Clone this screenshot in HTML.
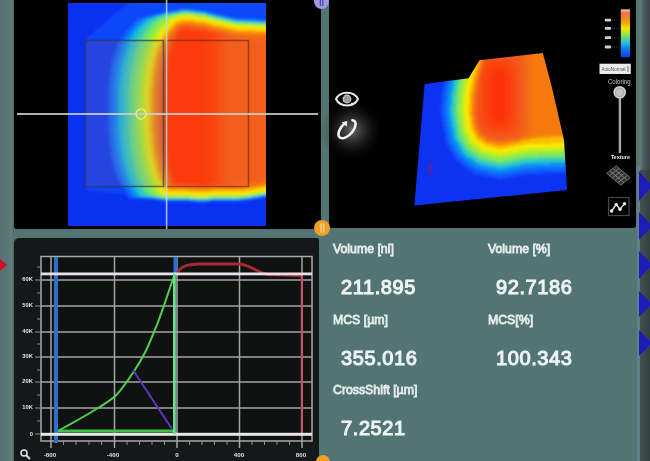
<!DOCTYPE html>
<html><head><meta charset="utf-8">
<style>
html,body{margin:0;padding:0;width:650px;height:461px;overflow:hidden;background:#527473;font-family:"Liberation Sans",sans-serif;}
.abs{position:absolute;}
#root{position:absolute;left:0;top:0;width:650px;height:461px;overflow:hidden;filter:blur(0.6px);}
#ls{left:0;top:0;width:14px;height:461px;background:linear-gradient(90deg,#5c7073 0%,#587474 45%,#5e7e7a 85%,#4a6664 100%);}
#tl{left:14px;top:0;width:307px;height:229px;background:#000;border-radius:0 0 3px 3px;}
#tr{left:329px;top:0;width:307px;height:228px;background:#000;border-radius:0 0 3px 3px;}
#gp{left:14px;top:238px;width:305px;height:223px;background:#141818;border-radius:5px 2px 0 0;}
#rs{left:640px;top:170px;width:10px;height:291px;background:linear-gradient(90deg,#44504f,#353d40);}
#rs2{left:636px;top:0;width:14px;height:170px;background:linear-gradient(90deg,#567472 0%,#5a7876 35%,#4a585c 55%,#3c4448 100%);}
.lbl{position:absolute;color:#e6ecec;font-size:12.3px;letter-spacing:0px;-webkit-text-stroke:0.8px #e6ecec;}
.val{position:absolute;color:#eef4f4;font-size:20px;letter-spacing:0.6px;-webkit-text-stroke:1.1px #eef4f4;}
svg{position:absolute;left:0;top:0;}
</style></head><body><div id="root">
<div id="ls" class="abs"></div>
<div id="tl" class="abs"></div>
<div id="tr" class="abs"></div>
<div id="gp" class="abs"></div>
<div id="rs2" class="abs"></div>
<div id="rs" class="abs"></div>
<div class="abs" style="left:637px;top:166px;width:3px;height:295px;background:#647e86;"></div>

<svg width="650" height="461" viewBox="0 0 650 461">
<defs>
 <filter id="b3" x="-20%" y="-20%" width="140%" height="140%"><feGaussianBlur stdDeviation="3"/></filter>
 <filter id="b5" x="-20%" y="-20%" width="140%" height="140%"><feGaussianBlur stdDeviation="5"/></filter>
 <filter id="b15" x="-10%" y="-10%" width="120%" height="120%"><feGaussianBlur stdDeviation="1.5"/></filter>
 <filter id="b1" x="-20%" y="-20%" width="140%" height="140%"><feGaussianBlur stdDeviation="1"/></filter>
 <clipPath id="hm"><rect x="68" y="3" width="198" height="223"/></clipPath>
 <radialGradient id="glow" cx="0.5" cy="0.5" r="0.5"><stop offset="0" stop-color="#9a9a9a" stop-opacity="0.7"/><stop offset="0.45" stop-color="#606060" stop-opacity="0.35"/><stop offset="1" stop-color="#000" stop-opacity="0"/></radialGradient>
</defs>

<!-- ===== heatmap ===== -->
<g clip-path="url(#hm)">
 <rect x="60" y="0" width="220" height="235" fill="#0a30f2"/>
 <path d="M131,0 L280,0 L280,40 L85,40 Z M85,187 L280,187 L280,192 L166,199 L85,190 Z" fill="#0c46fa" filter="url(#b15)"/>
 <g filter="url(#b15)">
<path fill="#0a43f6" d="M130.0,23.0 130.0,24.0 122.0,33.0 115.0,47.0 115.0,49.0 114.0,50.0 114.0,52.0 113.0,53.0 113.0,55.0 111.0,59.0 111.0,63.0 110.0,64.0 110.0,68.0 109.0,69.0 109.0,75.0 108.0,76.0 108.0,86.0 107.0,87.0 107.0,133.0 108.0,134.0 108.0,145.0 109.0,146.0 110.0,158.0 111.0,159.0 111.0,162.0 112.0,163.0 112.0,166.0 113.0,167.0 113.0,170.0 114.0,171.0 115.0,176.0 118.0,181.0 119.0,185.0 121.0,187.0 122.0,190.0 124.0,192.0 126.0,196.0 128.0,198.0 130.0,198.0 131.0,199.0 149.0,199.0 150.0,200.0 157.0,200.0 158.0,201.0 165.0,201.0 166.0,202.0 196.0,202.0 197.0,203.0 207.0,203.0 208.0,202.0 239.0,202.0 240.0,201.0 249.0,201.0 250.0,200.0 260.0,199.0 261.0,198.0 279.0,198.0 279.0,19.0 263.0,19.0 262.0,18.0 243.0,18.0 242.0,17.0 233.0,17.0 232.0,16.0 224.0,15.0 223.0,14.0 220.0,14.0 219.0,13.0 216.0,13.0 215.0,12.0 212.0,12.0 211.0,11.0 208.0,11.0 207.0,10.0 204.0,10.0 203.0,9.0 196.0,9.0 195.0,8.0 189.0,8.0 188.0,7.0 184.0,7.0 183.0,8.0 178.0,8.0 177.0,9.0 173.0,9.0 172.0,10.0 167.0,10.0 166.0,11.0 163.0,11.0 162.0,12.0 155.0,13.0 151.0,15.0 144.0,16.0 140.0,18.0 137.0,18.0 135.0,19.0 131.0,23.0Z"/>
<path fill="#0a56fb" d="M132.0,23.0 132.0,24.0 124.0,33.0 117.0,47.0 117.0,49.0 116.0,50.0 116.0,52.0 115.0,53.0 115.0,55.0 113.0,59.0 113.0,63.0 112.0,64.0 112.0,68.0 111.0,69.0 111.0,75.0 110.0,76.0 110.0,86.0 109.0,87.0 109.0,133.0 110.0,134.0 110.0,145.0 111.0,146.0 112.0,158.0 113.0,159.0 113.0,162.0 114.0,163.0 114.0,166.0 115.0,167.0 115.0,170.0 116.0,171.0 117.0,176.0 120.0,181.0 121.0,185.0 123.0,187.0 124.0,190.0 126.0,192.0 128.0,196.0 130.0,198.0 138.0,198.0 139.0,199.0 153.0,199.0 154.0,200.0 161.0,200.0 162.0,201.0 189.0,201.0 190.0,202.0 211.0,202.0 212.0,201.0 244.0,201.0 245.0,200.0 252.0,200.0 253.0,199.0 257.0,199.0 258.0,198.0 262.0,198.0 263.0,197.0 279.0,197.0 279.0,19.0 249.0,19.0 248.0,18.0 235.0,18.0 234.0,17.0 230.0,17.0 229.0,16.0 226.0,16.0 225.0,15.0 221.0,15.0 220.0,14.0 217.0,14.0 216.0,13.0 209.0,12.0 205.0,10.0 191.0,9.0 190.0,8.0 182.0,8.0 181.0,9.0 176.0,9.0 175.0,10.0 171.0,10.0 170.0,11.0 165.0,11.0 161.0,13.0 158.0,13.0 157.0,14.0 154.0,14.0 150.0,16.0 143.0,17.0 142.0,18.0 137.0,19.0 133.0,23.0Z"/>
<path fill="#0a69ff" d="M134.0,23.0 134.0,24.0 126.0,33.0 119.0,47.0 119.0,49.0 118.0,50.0 118.0,52.0 117.0,53.0 117.0,55.0 115.0,59.0 115.0,63.0 114.0,64.0 114.0,68.0 113.0,69.0 113.0,75.0 112.0,76.0 112.0,86.0 111.0,87.0 111.0,133.0 112.0,134.0 112.0,145.0 113.0,146.0 114.0,158.0 115.0,159.0 115.0,162.0 116.0,163.0 116.0,166.0 117.0,167.0 117.0,170.0 118.0,171.0 119.0,176.0 122.0,181.0 123.0,185.0 125.0,187.0 126.0,190.0 128.0,192.0 130.0,196.0 133.0,198.0 149.0,198.0 150.0,199.0 157.0,199.0 158.0,200.0 165.0,200.0 166.0,201.0 196.0,201.0 197.0,202.0 207.0,202.0 208.0,201.0 239.0,201.0 240.0,200.0 249.0,200.0 250.0,199.0 260.0,198.0 261.0,197.0 279.0,197.0 279.0,20.0 256.0,20.0 255.0,19.0 236.0,19.0 235.0,18.0 232.0,18.0 231.0,17.0 227.0,17.0 226.0,16.0 223.0,16.0 222.0,15.0 214.0,14.0 213.0,13.0 207.0,12.0 206.0,11.0 194.0,10.0 193.0,9.0 180.0,9.0 179.0,10.0 175.0,10.0 174.0,11.0 164.0,12.0 163.0,13.0 160.0,13.0 156.0,15.0 153.0,15.0 152.0,16.0 149.0,16.0 145.0,18.0 142.0,18.0 138.0,20.0 135.0,23.0Z"/>
<path fill="#118ef1" d="M140.0,21.0 132.0,30.0 132.0,31.0 128.0,36.0 123.0,46.0 123.0,48.0 122.0,49.0 122.0,51.0 121.0,52.0 121.0,54.0 119.0,58.0 119.0,61.0 118.0,62.0 118.0,66.0 117.0,67.0 117.0,73.0 116.0,74.0 116.0,82.0 115.0,83.0 115.0,138.0 116.0,139.0 116.0,147.0 117.0,148.0 117.0,154.0 118.0,155.0 119.0,164.0 121.0,168.0 122.0,174.0 124.0,177.0 124.0,179.0 129.0,189.0 131.0,191.0 133.0,195.0 135.0,197.0 142.0,197.0 143.0,198.0 155.0,198.0 156.0,199.0 163.0,199.0 164.0,200.0 192.0,200.0 193.0,201.0 209.0,201.0 210.0,200.0 242.0,200.0 243.0,199.0 251.0,199.0 252.0,198.0 256.0,198.0 257.0,197.0 261.0,197.0 262.0,196.0 279.0,196.0 279.0,21.0 258.0,21.0 257.0,20.0 238.0,20.0 237.0,19.0 232.0,19.0 231.0,18.0 227.0,18.0 226.0,17.0 223.0,17.0 222.0,16.0 218.0,16.0 217.0,15.0 211.0,14.0 210.0,13.0 207.0,13.0 206.0,12.0 202.0,12.0 201.0,11.0 194.0,11.0 193.0,10.0 187.0,10.0 186.0,9.0 185.0,10.0 180.0,10.0 179.0,11.0 168.0,12.0 167.0,13.0 164.0,13.0 163.0,14.0 156.0,15.0 152.0,17.0 149.0,17.0 148.0,18.0 143.0,19.0 141.0,21.0Z"/>
<path fill="#19b9e1" d="M147.0,19.0 143.0,23.0 142.0,23.0 142.0,24.0 137.0,29.0 137.0,30.0 134.0,33.0 133.0,36.0 131.0,38.0 129.0,42.0 129.0,44.0 127.0,47.0 127.0,49.0 126.0,50.0 126.0,52.0 125.0,53.0 125.0,55.0 123.0,59.0 123.0,63.0 122.0,64.0 122.0,68.0 121.0,69.0 121.0,75.0 120.0,76.0 120.0,86.0 119.0,87.0 119.0,133.0 120.0,134.0 120.0,145.0 121.0,146.0 122.0,158.0 123.0,159.0 123.0,162.0 124.0,163.0 124.0,166.0 125.0,167.0 125.0,170.0 126.0,171.0 127.0,176.0 130.0,181.0 131.0,185.0 133.0,187.0 134.0,190.0 136.0,192.0 138.0,196.0 140.0,196.0 141.0,197.0 153.0,197.0 154.0,198.0 161.0,198.0 162.0,199.0 189.0,199.0 190.0,200.0 211.0,200.0 212.0,199.0 244.0,199.0 245.0,198.0 252.0,198.0 253.0,197.0 257.0,197.0 258.0,196.0 262.0,196.0 263.0,195.0 279.0,195.0 279.0,22.0 256.0,22.0 255.0,21.0 236.0,21.0 235.0,20.0 232.0,20.0 231.0,19.0 227.0,19.0 226.0,18.0 223.0,18.0 222.0,17.0 214.0,16.0 213.0,15.0 207.0,14.0 206.0,13.0 194.0,12.0 193.0,11.0 180.0,11.0 179.0,12.0 175.0,12.0 174.0,13.0 164.0,14.0 163.0,15.0 160.0,15.0 156.0,17.0 153.0,17.0 152.0,18.0Z"/>
<path fill="#39cbb5" d="M150.0,20.0 140.0,31.0 132.0,46.0 132.0,48.0 129.0,54.0 128.0,61.0 127.0,62.0 126.0,72.0 125.0,73.0 125.0,81.0 124.0,82.0 124.0,139.0 125.0,140.0 125.0,148.0 126.0,149.0 126.0,155.0 127.0,156.0 127.0,160.0 128.0,161.0 128.0,164.0 129.0,165.0 129.0,168.0 130.0,169.0 132.0,177.0 141.0,194.0 143.0,196.0 157.0,197.0 158.0,198.0 165.0,198.0 166.0,199.0 196.0,199.0 197.0,200.0 207.0,200.0 208.0,199.0 239.0,199.0 240.0,198.0 249.0,198.0 250.0,197.0 260.0,196.0 261.0,195.0 279.0,195.0 279.0,23.0 262.0,23.0 261.0,22.0 242.0,22.0 241.0,21.0 233.0,21.0 232.0,20.0 228.0,20.0 227.0,19.0 224.0,19.0 223.0,18.0 215.0,17.0 214.0,16.0 208.0,15.0 207.0,14.0 203.0,14.0 202.0,13.0 196.0,13.0 195.0,12.0 188.0,12.0 187.0,11.0 179.0,12.0 178.0,13.0 173.0,13.0 172.0,14.0 167.0,14.0 166.0,15.0 163.0,15.0 159.0,17.0 156.0,17.0Z"/>
<path fill="#5fe182" d="M158.0,18.0 154.0,22.0 153.0,22.0 146.0,30.0 138.0,44.0 138.0,46.0 136.0,49.0 135.0,55.0 133.0,59.0 133.0,63.0 132.0,64.0 132.0,68.0 131.0,69.0 131.0,74.0 130.0,75.0 130.0,85.0 129.0,86.0 129.0,134.0 130.0,135.0 130.0,145.0 131.0,146.0 131.0,153.0 132.0,154.0 133.0,163.0 134.0,164.0 134.0,167.0 135.0,168.0 137.0,176.0 145.0,192.0 149.0,196.0 154.0,196.0 155.0,197.0 161.0,197.0 162.0,198.0 190.0,198.0 191.0,199.0 210.0,199.0 211.0,198.0 244.0,198.0 245.0,197.0 251.0,197.0 252.0,196.0 257.0,196.0 258.0,195.0 262.0,195.0 263.0,194.0 279.0,194.0 279.0,24.0 265.0,24.0 264.0,23.0 245.0,23.0 244.0,22.0 233.0,22.0 232.0,21.0 229.0,21.0 228.0,20.0 224.0,20.0 223.0,19.0 220.0,19.0 219.0,18.0 216.0,18.0 215.0,17.0 208.0,16.0 204.0,14.0 197.0,14.0 196.0,13.0 189.0,13.0 188.0,12.0 183.0,12.0 182.0,13.0 178.0,13.0 177.0,14.0 172.0,14.0 171.0,15.0 167.0,15.0 166.0,16.0 163.0,16.0 162.0,17.0Z"/>
<path fill="#87e855" d="M163.0,18.0 160.0,21.0 159.0,21.0 151.0,30.0 143.0,44.0 143.0,46.0 141.0,49.0 141.0,51.0 139.0,55.0 138.0,62.0 137.0,63.0 136.0,73.0 135.0,74.0 135.0,83.0 134.0,84.0 134.0,136.0 135.0,137.0 135.0,147.0 136.0,148.0 136.0,154.0 137.0,155.0 137.0,159.0 138.0,160.0 139.0,167.0 140.0,168.0 140.0,170.0 141.0,171.0 143.0,179.0 148.0,189.0 154.0,196.0 158.0,196.0 159.0,197.0 166.0,197.0 167.0,198.0 197.0,198.0 198.0,199.0 207.0,199.0 208.0,198.0 214.0,198.0 215.0,197.0 216.0,198.0 239.0,198.0 240.0,197.0 249.0,197.0 250.0,196.0 254.0,196.0 255.0,195.0 260.0,195.0 261.0,194.0 265.0,194.0 266.0,193.0 279.0,193.0 279.0,24.0 250.0,24.0 249.0,23.0 235.0,23.0 234.0,22.0 230.0,22.0 229.0,21.0 226.0,21.0 225.0,20.0 221.0,20.0 220.0,19.0 213.0,18.0 212.0,17.0 206.0,16.0 205.0,15.0 191.0,14.0 190.0,13.0 182.0,13.0 181.0,14.0 176.0,14.0 175.0,15.0 167.0,16.0Z"/>
<path fill="#aff028" d="M170.0,17.0 168.0,19.0 167.0,19.0 157.0,29.0 157.0,30.0 153.0,35.0 148.0,45.0 148.0,47.0 146.0,50.0 146.0,52.0 144.0,56.0 144.0,59.0 143.0,60.0 143.0,64.0 142.0,65.0 142.0,69.0 141.0,70.0 141.0,77.0 140.0,78.0 140.0,90.0 139.0,91.0 139.0,129.0 140.0,130.0 140.0,143.0 141.0,144.0 141.0,151.0 142.0,152.0 142.0,157.0 143.0,158.0 144.0,166.0 145.0,167.0 145.0,169.0 146.0,170.0 148.0,178.0 154.0,190.0 158.0,195.0 162.0,196.0 163.0,197.0 189.0,197.0 190.0,198.0 211.0,198.0 212.0,197.0 244.0,197.0 245.0,196.0 252.0,196.0 253.0,195.0 257.0,195.0 258.0,194.0 262.0,194.0 263.0,193.0 279.0,193.0 279.0,25.0 256.0,25.0 255.0,24.0 236.0,24.0 235.0,23.0 232.0,23.0 231.0,22.0 227.0,22.0 226.0,21.0 223.0,21.0 222.0,20.0 214.0,19.0 213.0,18.0 207.0,17.0 206.0,16.0 194.0,15.0 193.0,14.0 180.0,14.0 179.0,15.0 176.0,15.0 175.0,16.0Z"/>
<path fill="#d5ec14" d="M171.0,19.0 169.0,21.0 168.0,21.0 160.0,30.0 152.0,44.0 152.0,46.0 150.0,49.0 150.0,51.0 148.0,55.0 147.0,62.0 146.0,63.0 146.0,67.0 145.0,68.0 145.0,74.0 144.0,75.0 144.0,84.0 143.0,85.0 143.0,135.0 144.0,136.0 144.0,146.0 145.0,147.0 145.0,153.0 146.0,154.0 147.0,163.0 148.0,164.0 148.0,167.0 149.0,168.0 151.0,176.0 159.0,192.0 163.0,195.0 167.0,195.0 168.0,196.0 196.0,196.0 197.0,197.0 207.0,197.0 208.0,196.0 239.0,196.0 240.0,195.0 249.0,195.0 250.0,194.0 260.0,193.0 261.0,192.0 279.0,192.0 279.0,26.0 246.0,26.0 245.0,25.0 234.0,25.0 233.0,24.0 229.0,24.0 228.0,23.0 225.0,23.0 224.0,22.0 220.0,22.0 219.0,21.0 212.0,20.0 211.0,19.0 205.0,18.0 204.0,17.0 197.0,17.0 196.0,16.0 190.0,16.0 189.0,15.0 183.0,15.0 182.0,16.0 178.0,16.0 177.0,17.0 175.0,17.0Z"/>
<path fill="#fae800" d="M173.0,20.0 164.0,29.0 164.0,30.0 161.0,33.0 160.0,36.0 158.0,38.0 156.0,42.0 156.0,44.0 154.0,47.0 154.0,49.0 153.0,50.0 153.0,52.0 152.0,53.0 152.0,55.0 150.0,59.0 150.0,63.0 149.0,64.0 149.0,68.0 148.0,69.0 148.0,75.0 147.0,76.0 147.0,86.0 146.0,87.0 146.0,133.0 147.0,134.0 147.0,145.0 148.0,146.0 148.0,152.0 149.0,153.0 149.0,158.0 150.0,159.0 150.0,162.0 151.0,163.0 151.0,166.0 152.0,167.0 152.0,170.0 153.0,171.0 154.0,176.0 161.0,190.0 165.0,194.0 189.0,194.0 190.0,195.0 211.0,195.0 212.0,194.0 244.0,194.0 245.0,193.0 252.0,193.0 253.0,192.0 257.0,192.0 258.0,191.0 262.0,191.0 263.0,190.0 279.0,190.0 279.0,28.0 256.0,28.0 255.0,27.0 236.0,27.0 235.0,26.0 232.0,26.0 231.0,25.0 227.0,25.0 226.0,24.0 223.0,24.0 222.0,23.0 214.0,22.0 213.0,21.0 207.0,20.0 206.0,19.0 194.0,18.0 193.0,17.0 181.0,17.0 180.0,18.0 177.0,18.0Z"/>
<path fill="#fabf00" d="M175.0,21.0 164.0,33.0 157.0,47.0 157.0,49.0 156.0,50.0 156.0,52.0 155.0,53.0 155.0,55.0 153.0,59.0 153.0,63.0 152.0,64.0 152.0,68.0 151.0,69.0 151.0,75.0 150.0,76.0 150.0,86.0 149.0,87.0 149.0,133.0 150.0,134.0 150.0,145.0 151.0,146.0 151.0,152.0 152.0,153.0 152.0,158.0 153.0,159.0 153.0,162.0 154.0,163.0 154.0,166.0 155.0,167.0 155.0,170.0 156.0,171.0 157.0,176.0 164.0,190.0 167.0,192.0 211.0,193.0 212.0,192.0 244.0,192.0 245.0,191.0 252.0,191.0 253.0,190.0 257.0,190.0 258.0,189.0 262.0,189.0 263.0,188.0 279.0,188.0 279.0,30.0 256.0,30.0 255.0,29.0 236.0,29.0 235.0,28.0 232.0,28.0 231.0,27.0 227.0,27.0 226.0,26.0 223.0,26.0 222.0,25.0 214.0,24.0 213.0,23.0 207.0,22.0 206.0,21.0 194.0,20.0 193.0,19.0 181.0,19.0 180.0,20.0 177.0,20.0Z"/>
<path fill="#fa9600" d="M176.0,23.0 167.0,33.0 160.0,47.0 160.0,49.0 159.0,50.0 159.0,52.0 158.0,53.0 158.0,55.0 156.0,59.0 156.0,63.0 155.0,64.0 155.0,68.0 154.0,69.0 154.0,75.0 153.0,76.0 153.0,86.0 152.0,87.0 152.0,133.0 153.0,134.0 153.0,145.0 154.0,146.0 154.0,152.0 155.0,153.0 155.0,158.0 156.0,159.0 156.0,162.0 157.0,163.0 158.0,170.0 159.0,171.0 160.0,176.0 163.0,181.0 164.0,185.0 166.0,187.0 166.0,188.0 169.0,190.0 189.0,190.0 190.0,191.0 211.0,191.0 212.0,190.0 244.0,190.0 245.0,189.0 252.0,189.0 253.0,188.0 257.0,188.0 258.0,187.0 262.0,187.0 263.0,186.0 279.0,186.0 279.0,32.0 256.0,32.0 255.0,31.0 236.0,31.0 235.0,30.0 232.0,30.0 231.0,29.0 227.0,29.0 226.0,28.0 223.0,28.0 222.0,27.0 214.0,26.0 213.0,25.0 207.0,24.0 206.0,23.0 194.0,22.0 193.0,21.0 181.0,21.0 180.0,22.0Z"/>
<path fill="#f98d05" d="M176.0,24.0 171.0,29.0 171.0,30.0 167.0,35.0 161.0,47.0 161.0,49.0 160.0,50.0 160.0,52.0 158.0,56.0 158.0,59.0 157.0,60.0 156.0,69.0 155.0,70.0 155.0,76.0 154.0,77.0 154.0,89.0 153.0,90.0 153.0,130.0 154.0,131.0 154.0,143.0 155.0,144.0 155.0,151.0 156.0,152.0 156.0,157.0 157.0,158.0 158.0,166.0 159.0,167.0 159.0,169.0 160.0,170.0 162.0,178.0 166.0,186.0 169.0,189.0 174.0,189.0 175.0,190.0 199.0,190.0 200.0,191.0 206.0,191.0 207.0,190.0 213.0,190.0 214.0,189.0 221.0,189.0 222.0,190.0 237.0,190.0 238.0,189.0 247.0,189.0 248.0,188.0 259.0,187.0 260.0,186.0 264.0,186.0 265.0,185.0 279.0,185.0 279.0,33.0 239.0,32.0 238.0,31.0 232.0,31.0 231.0,30.0 228.0,30.0 227.0,29.0 223.0,29.0 222.0,28.0 219.0,28.0 218.0,27.0 215.0,27.0 214.0,26.0 211.0,26.0 210.0,25.0 207.0,25.0 206.0,24.0 202.0,24.0 201.0,23.0 195.0,23.0 194.0,22.0 187.0,22.0 186.0,21.0Z"/>
<path fill="#f7840a" d="M176.0,25.0 173.0,28.0 173.0,29.0 170.0,32.0 169.0,35.0 167.0,37.0 163.0,45.0 163.0,47.0 162.0,48.0 162.0,50.0 161.0,51.0 161.0,53.0 159.0,57.0 159.0,60.0 158.0,61.0 158.0,64.0 157.0,65.0 157.0,70.0 156.0,71.0 156.0,78.0 155.0,79.0 155.0,94.0 154.0,95.0 154.0,125.0 155.0,126.0 155.0,142.0 156.0,143.0 156.0,150.0 157.0,151.0 157.0,156.0 158.0,157.0 158.0,161.0 159.0,162.0 160.0,169.0 161.0,170.0 162.0,175.0 164.0,178.0 164.0,180.0 167.0,186.0 171.0,189.0 194.0,189.0 195.0,190.0 208.0,190.0 209.0,189.0 241.0,189.0 242.0,188.0 250.0,188.0 251.0,187.0 261.0,186.0 262.0,185.0 279.0,185.0 279.0,34.0 262.0,34.0 261.0,33.0 242.0,33.0 241.0,32.0 233.0,32.0 232.0,31.0 228.0,31.0 227.0,30.0 224.0,30.0 223.0,29.0 220.0,29.0 219.0,28.0 216.0,28.0 215.0,27.0 212.0,27.0 211.0,26.0 208.0,26.0 207.0,25.0 204.0,25.0 203.0,24.0 196.0,24.0 195.0,23.0 189.0,23.0 188.0,22.0 184.0,22.0 183.0,23.0 180.0,23.0Z"/>
<path fill="#f67a0f" d="M178.0,25.0 170.0,34.0 163.0,48.0 163.0,50.0 161.0,54.0 161.0,57.0 160.0,58.0 160.0,61.0 159.0,62.0 159.0,65.0 158.0,66.0 158.0,71.0 157.0,72.0 157.0,80.0 156.0,81.0 156.0,105.0 155.0,106.0 155.0,113.0 156.0,114.0 156.0,140.0 157.0,141.0 157.0,149.0 158.0,150.0 159.0,160.0 160.0,161.0 161.0,168.0 162.0,169.0 164.0,177.0 167.0,182.0 167.0,184.0 169.0,186.0 169.0,187.0 171.0,188.0 189.0,188.0 190.0,189.0 211.0,189.0 212.0,188.0 244.0,188.0 245.0,187.0 251.0,187.0 252.0,186.0 257.0,186.0 258.0,185.0 262.0,185.0 263.0,184.0 279.0,184.0 279.0,35.0 265.0,35.0 264.0,34.0 245.0,34.0 244.0,33.0 234.0,33.0 233.0,32.0 229.0,32.0 228.0,31.0 225.0,31.0 224.0,30.0 220.0,30.0 219.0,29.0 212.0,28.0 211.0,27.0 205.0,26.0 204.0,25.0 197.0,25.0 196.0,24.0 190.0,24.0 189.0,23.0 184.0,23.0 183.0,24.0 180.0,24.0Z"/>
<path fill="#f57114" d="M178.0,26.0 171.0,34.0 165.0,46.0 165.0,48.0 164.0,49.0 164.0,51.0 163.0,52.0 163.0,54.0 161.0,58.0 161.0,61.0 160.0,62.0 159.0,72.0 158.0,73.0 158.0,82.0 157.0,83.0 157.0,138.0 158.0,139.0 158.0,148.0 159.0,149.0 159.0,154.0 160.0,155.0 160.0,159.0 161.0,160.0 161.0,164.0 163.0,168.0 163.0,171.0 164.0,172.0 164.0,174.0 166.0,177.0 166.0,179.0 169.0,185.0 171.0,187.0 175.0,187.0 176.0,188.0 199.0,188.0 200.0,189.0 206.0,189.0 207.0,188.0 213.0,188.0 214.0,187.0 221.0,187.0 222.0,188.0 236.0,188.0 237.0,187.0 246.0,187.0 247.0,186.0 253.0,186.0 254.0,185.0 264.0,184.0 265.0,183.0 279.0,183.0 279.0,35.0 247.0,35.0 246.0,34.0 234.0,34.0 233.0,33.0 230.0,33.0 229.0,32.0 225.0,32.0 224.0,31.0 221.0,31.0 220.0,30.0 217.0,30.0 216.0,29.0 209.0,28.0 205.0,26.0 191.0,25.0 190.0,24.0 183.0,24.0 182.0,25.0Z"/>
<path fill="#f36819" d="M178.0,27.0 175.0,30.0 175.0,31.0 171.0,36.0 167.0,44.0 167.0,46.0 165.0,49.0 165.0,51.0 163.0,55.0 163.0,58.0 162.0,59.0 162.0,62.0 161.0,63.0 161.0,67.0 160.0,68.0 160.0,74.0 159.0,75.0 159.0,84.0 158.0,85.0 158.0,136.0 159.0,137.0 159.0,146.0 160.0,147.0 160.0,153.0 161.0,154.0 161.0,159.0 162.0,160.0 163.0,167.0 164.0,168.0 166.0,176.0 168.0,179.0 168.0,181.0 170.0,185.0 173.0,187.0 194.0,187.0 195.0,188.0 208.0,188.0 209.0,187.0 238.0,187.0 239.0,186.0 248.0,186.0 249.0,185.0 254.0,185.0 255.0,184.0 259.0,184.0 260.0,183.0 264.0,183.0 265.0,182.0 279.0,182.0 279.0,37.0 265.0,37.0 264.0,36.0 245.0,36.0 244.0,35.0 234.0,35.0 233.0,34.0 230.0,34.0 229.0,33.0 226.0,33.0 225.0,32.0 222.0,32.0 221.0,31.0 217.0,31.0 216.0,30.0 210.0,29.0 209.0,28.0 206.0,28.0 205.0,27.0 200.0,27.0 199.0,26.0 192.0,26.0 191.0,25.0 182.0,25.0Z"/>
<path fill="#f25f1e" d="M178.0,28.0 171.0,38.0 169.0,42.0 169.0,44.0 167.0,47.0 165.0,55.0 164.0,56.0 164.0,59.0 163.0,60.0 163.0,63.0 162.0,64.0 162.0,68.0 161.0,69.0 161.0,75.0 160.0,76.0 160.0,86.0 159.0,87.0 159.0,133.0 160.0,134.0 160.0,145.0 161.0,146.0 161.0,152.0 162.0,153.0 162.0,158.0 163.0,159.0 163.0,162.0 164.0,163.0 165.0,170.0 168.0,176.0 168.0,178.0 170.0,181.0 170.0,183.0 173.0,186.0 189.0,186.0 190.0,187.0 211.0,187.0 212.0,186.0 232.0,186.0 236.0,183.0 245.0,183.0 246.0,182.0 252.0,182.0 253.0,181.0 263.0,180.0 264.0,179.0 279.0,179.0 279.0,41.0 248.0,41.0 247.0,40.0 236.0,40.0 232.0,36.0 228.0,34.0 222.0,33.0 221.0,32.0 218.0,32.0 217.0,31.0 214.0,31.0 213.0,30.0 207.0,29.0 206.0,28.0 194.0,27.0 193.0,26.0 182.0,26.0Z"/>
<path fill="#f4591b" d="M185.0,26.0 184.0,27.0 180.0,28.0 175.0,33.0 173.0,38.0 171.0,40.0 170.0,44.0 168.0,47.0 166.0,55.0 165.0,56.0 165.0,59.0 164.0,60.0 164.0,63.0 163.0,64.0 163.0,68.0 162.0,69.0 162.0,75.0 161.0,76.0 161.0,87.0 160.0,88.0 160.0,133.0 161.0,134.0 161.0,145.0 162.0,146.0 163.0,158.0 164.0,159.0 164.0,162.0 165.0,163.0 166.0,170.0 169.0,176.0 169.0,178.0 172.0,184.0 175.0,186.0 197.0,186.0 198.0,187.0 207.0,187.0 208.0,186.0 214.0,186.0 215.0,185.0 216.0,186.0 222.0,186.0 223.0,185.0 226.0,185.0 227.0,184.0 227.0,37.0 226.0,35.0 224.0,34.0 222.0,34.0 218.0,32.0 215.0,32.0 214.0,31.0 211.0,31.0 207.0,29.0 203.0,29.0 202.0,28.0 195.0,28.0 194.0,27.0 188.0,27.0 187.0,26.0Z"/>
<path fill="#f55218" d="M184.0,27.0 183.0,28.0 181.0,28.0 177.0,32.0 174.0,38.0 172.0,40.0 172.0,42.0 169.0,47.0 169.0,49.0 168.0,50.0 168.0,52.0 166.0,56.0 166.0,59.0 165.0,60.0 165.0,63.0 164.0,64.0 164.0,68.0 163.0,69.0 163.0,75.0 162.0,76.0 162.0,87.0 161.0,88.0 161.0,132.0 162.0,133.0 162.0,144.0 163.0,145.0 163.0,152.0 164.0,153.0 164.0,158.0 165.0,159.0 165.0,162.0 166.0,163.0 166.0,166.0 167.0,167.0 168.0,173.0 174.0,185.0 189.0,185.0 190.0,186.0 210.0,186.0 211.0,185.0 221.0,185.0 223.0,183.0 223.0,37.0 221.0,34.0 219.0,34.0 215.0,32.0 212.0,32.0 208.0,30.0Z"/>
<path fill="#f74c15" d="M183.0,28.0 178.0,32.0 170.0,47.0 170.0,49.0 169.0,50.0 169.0,52.0 167.0,56.0 166.0,63.0 165.0,64.0 164.0,76.0 163.0,77.0 163.0,88.0 162.0,89.0 162.0,131.0 163.0,132.0 163.0,144.0 164.0,145.0 164.0,152.0 165.0,153.0 166.0,162.0 167.0,163.0 167.0,166.0 168.0,167.0 168.0,169.0 169.0,170.0 171.0,178.0 174.0,184.0 176.0,184.0 177.0,185.0 197.0,185.0 198.0,186.0 207.0,186.0 208.0,185.0 219.0,184.0 219.0,36.0 215.0,33.0 209.0,32.0 205.0,30.0 191.0,29.0 190.0,28.0Z"/>
<path fill="#f84611" d="M183.0,29.0 179.0,32.0 172.0,45.0 172.0,47.0 170.0,50.0 169.0,56.0 167.0,60.0 166.0,70.0 165.0,71.0 165.0,77.0 164.0,78.0 164.0,91.0 163.0,92.0 163.0,128.0 164.0,129.0 164.0,143.0 165.0,144.0 165.0,151.0 166.0,152.0 166.0,157.0 167.0,158.0 167.0,161.0 168.0,162.0 169.0,169.0 170.0,170.0 171.0,175.0 173.0,178.0 173.0,180.0 176.0,184.0 191.0,184.0 192.0,185.0 209.0,185.0 210.0,184.0 214.0,184.0 216.0,183.0 216.0,36.0 212.0,33.0 206.0,32.0 205.0,31.0 200.0,31.0 199.0,30.0 192.0,30.0 191.0,29.0Z"/>
<path fill="#fa400e" d="M183.0,30.0 179.0,34.0 178.0,37.0 175.0,41.0 175.0,43.0 172.0,48.0 172.0,50.0 170.0,54.0 170.0,57.0 169.0,58.0 169.0,61.0 168.0,62.0 168.0,65.0 167.0,66.0 166.0,80.0 165.0,81.0 165.0,140.0 166.0,141.0 166.0,149.0 167.0,150.0 167.0,155.0 168.0,156.0 168.0,160.0 169.0,161.0 170.0,168.0 171.0,169.0 173.0,177.0 176.0,183.0 178.0,183.0 179.0,184.0 201.0,184.0 202.0,185.0 205.0,185.0 206.0,184.0 210.0,184.0 212.0,183.0 212.0,36.0 210.0,34.0 206.0,33.0 205.0,32.0 200.0,32.0 199.0,31.0 192.0,31.0 191.0,30.0Z"/>
<path fill="#fc3a0b" d="M184.0,31.0 179.0,37.0 176.0,43.0 176.0,45.0 174.0,48.0 174.0,50.0 173.0,51.0 173.0,53.0 171.0,57.0 170.0,65.0 169.0,66.0 169.0,71.0 168.0,72.0 168.0,79.0 167.0,80.0 167.0,98.0 166.0,99.0 166.0,120.0 167.0,121.0 167.0,141.0 168.0,142.0 168.0,149.0 169.0,150.0 169.0,156.0 170.0,157.0 170.0,160.0 171.0,161.0 171.0,165.0 172.0,166.0 172.0,168.0 173.0,169.0 175.0,177.0 178.0,183.0 200.0,183.0 201.0,184.0 204.0,184.0 204.0,34.0 202.0,33.0 197.0,33.0 196.0,32.0 189.0,32.0 188.0,31.0Z"/>
 </g>
 <rect x="85" y="40" width="79" height="147" fill="#888ca0" fill-opacity="0.22"/>
 <rect x="85.5" y="40.5" width="78" height="146" fill="none" stroke="#303a40" stroke-opacity="0.7" stroke-width="1.5"/>
 <rect x="166.5" y="40.5" width="82" height="146" fill="none" stroke="#7a2a10" stroke-opacity="0.7" stroke-width="1.5"/>
</g>
<!-- crosshair -->
<rect x="165.8" y="0" width="1.6" height="229" fill="#b8dce6" fill-opacity="0.85"/>
<rect x="17" y="113" width="301" height="2" fill="#c8d2d2" fill-opacity="0.85"/>
<circle cx="141" cy="114" r="5" fill="none" stroke="#e8e890" stroke-width="1.5"/>

<!-- purple top circle -->
<circle cx="321.5" cy="1.5" r="7.5" fill="#a098e0"/>
<rect x="319.8" y="0" width="1.3" height="6" fill="#4a4a9a"/><rect x="322.2" y="0" width="1.3" height="6" fill="#4a4a9a"/>
<!-- orange circles -->
<circle cx="322" cy="228" r="8" fill="#eea028"/>
<rect x="320.4" y="223.5" width="1.4" height="9" fill="#ffd890"/>
<rect x="322.9" y="223.5" width="1.4" height="9" fill="#ffd890"/>
<circle cx="323" cy="462" r="7" fill="#eea028"/>

<!-- ===== 3D surface ===== -->
<clipPath id="surf"><path d="M424.6,84 L468.6,78.2 L479.5,60.3 L542.8,53 L552,87.7 L564,140 L567,190 L414.4,205.5 Z"/></clipPath>
<g clip-path="url(#surf)"><g filter="url(#b1)">
<path fill="#0a30f2" d="M400.0,40.0 400.0,209.0 589.0,209.0 589.0,40.0Z"/>
<path fill="#0a43f6" d="M453.0,40.0 452.0,46.0 451.0,47.0 451.0,49.0 449.0,53.0 449.0,56.0 447.0,60.0 447.0,63.0 446.0,64.0 446.0,69.0 445.0,70.0 445.0,74.0 444.0,75.0 443.0,86.0 442.0,87.0 442.0,91.0 441.0,92.0 441.0,104.0 440.0,105.0 440.0,114.0 441.0,115.0 441.0,121.0 442.0,122.0 442.0,127.0 443.0,128.0 443.0,132.0 444.0,133.0 445.0,143.0 448.0,149.0 450.0,151.0 451.0,154.0 455.0,159.0 455.0,160.0 462.0,167.0 463.0,167.0 469.0,172.0 470.0,172.0 474.0,175.0 482.0,176.0 483.0,177.0 491.0,178.0 492.0,179.0 496.0,179.0 497.0,180.0 504.0,180.0 505.0,179.0 510.0,179.0 511.0,178.0 515.0,178.0 516.0,177.0 520.0,177.0 521.0,176.0 527.0,176.0 528.0,175.0 550.0,175.0 551.0,174.0 589.0,174.0 589.0,40.0Z"/>
<path fill="#0a56fb" d="M455.0,40.0 455.0,43.0 453.0,47.0 453.0,50.0 452.0,51.0 452.0,53.0 450.0,57.0 450.0,60.0 448.0,64.0 448.0,69.0 447.0,70.0 447.0,74.0 446.0,75.0 445.0,86.0 444.0,87.0 444.0,91.0 443.0,92.0 443.0,104.0 442.0,105.0 442.0,114.0 443.0,115.0 443.0,121.0 444.0,122.0 444.0,127.0 445.0,128.0 445.0,132.0 446.0,133.0 446.0,138.0 447.0,139.0 447.0,142.0 452.0,152.0 454.0,154.0 456.0,158.0 463.0,165.0 464.0,165.0 470.0,170.0 471.0,170.0 475.0,173.0 483.0,174.0 484.0,175.0 492.0,176.0 493.0,177.0 497.0,177.0 498.0,178.0 501.0,178.0 502.0,177.0 509.0,177.0 510.0,176.0 514.0,176.0 515.0,175.0 519.0,175.0 520.0,174.0 524.0,174.0 525.0,173.0 538.0,173.0 539.0,172.0 584.0,172.0 585.0,171.0 589.0,171.0 589.0,40.0Z"/>
<path fill="#0a69ff" d="M457.0,40.0 456.0,47.0 455.0,48.0 454.0,54.0 453.0,55.0 453.0,57.0 451.0,61.0 451.0,64.0 450.0,65.0 450.0,69.0 449.0,70.0 449.0,74.0 448.0,75.0 448.0,80.0 447.0,81.0 447.0,86.0 446.0,87.0 446.0,91.0 445.0,92.0 445.0,104.0 444.0,105.0 444.0,114.0 445.0,115.0 445.0,121.0 446.0,122.0 446.0,127.0 447.0,128.0 447.0,132.0 448.0,133.0 448.0,138.0 449.0,139.0 449.0,142.0 452.0,146.0 454.0,151.0 456.0,153.0 458.0,157.0 464.0,163.0 465.0,163.0 468.0,166.0 469.0,166.0 476.0,171.0 484.0,172.0 485.0,173.0 493.0,174.0 494.0,175.0 499.0,175.0 500.0,176.0 501.0,175.0 513.0,174.0 514.0,173.0 518.0,173.0 519.0,172.0 523.0,172.0 524.0,171.0 537.0,171.0 538.0,170.0 573.0,170.0 574.0,169.0 589.0,169.0 589.0,40.0Z"/>
<path fill="#118ef1" d="M460.0,40.0 460.0,43.0 458.0,47.0 458.0,50.0 457.0,51.0 457.0,53.0 455.0,57.0 455.0,60.0 453.0,64.0 453.0,67.0 452.0,68.0 451.0,79.0 450.0,80.0 450.0,84.0 449.0,85.0 449.0,90.0 448.0,91.0 448.0,100.0 447.0,101.0 447.0,116.0 448.0,117.0 448.0,122.0 449.0,123.0 449.0,128.0 450.0,129.0 451.0,139.0 455.0,147.0 457.0,149.0 458.0,152.0 465.0,160.0 466.0,160.0 469.0,163.0 470.0,163.0 477.0,168.0 480.0,168.0 481.0,169.0 484.0,169.0 485.0,170.0 489.0,170.0 490.0,171.0 493.0,171.0 494.0,172.0 507.0,172.0 508.0,171.0 512.0,171.0 513.0,170.0 518.0,170.0 519.0,169.0 523.0,169.0 524.0,168.0 533.0,168.0 534.0,167.0 572.0,167.0 573.0,166.0 589.0,166.0 589.0,40.0Z"/>
<path fill="#19b9e1" d="M463.0,41.0 462.0,48.0 461.0,49.0 460.0,55.0 459.0,56.0 459.0,58.0 457.0,62.0 457.0,65.0 456.0,66.0 456.0,69.0 455.0,70.0 455.0,74.0 454.0,75.0 453.0,86.0 452.0,87.0 452.0,91.0 451.0,92.0 451.0,104.0 450.0,105.0 450.0,114.0 451.0,115.0 451.0,121.0 452.0,122.0 452.0,127.0 453.0,128.0 453.0,132.0 454.0,133.0 454.0,138.0 457.0,142.0 462.0,152.0 468.0,158.0 469.0,158.0 479.0,165.0 487.0,166.0 488.0,167.0 496.0,168.0 497.0,169.0 504.0,169.0 505.0,168.0 509.0,168.0 510.0,167.0 514.0,167.0 515.0,166.0 520.0,166.0 521.0,165.0 524.0,165.0 525.0,164.0 550.0,164.0 551.0,163.0 584.0,163.0 585.0,162.0 589.0,162.0 589.0,40.0 464.0,40.0Z"/>
<path fill="#39cbb5" d="M466.0,40.0 465.0,42.0 465.0,45.0 464.0,46.0 464.0,49.0 462.0,53.0 462.0,56.0 461.0,57.0 461.0,59.0 459.0,63.0 459.0,66.0 457.0,70.0 456.0,81.0 455.0,82.0 454.0,92.0 453.0,93.0 453.0,105.0 452.0,106.0 452.0,113.0 453.0,114.0 453.0,120.0 454.0,121.0 454.0,126.0 455.0,127.0 456.0,137.0 459.0,141.0 464.0,151.0 469.0,156.0 470.0,156.0 478.0,162.0 484.0,163.0 485.0,164.0 488.0,164.0 489.0,165.0 493.0,165.0 494.0,166.0 499.0,166.0 500.0,167.0 501.0,166.0 507.0,166.0 508.0,165.0 518.0,164.0 519.0,163.0 523.0,163.0 524.0,162.0 536.0,162.0 537.0,161.0 573.0,161.0 574.0,160.0 589.0,160.0 589.0,40.0Z"/>
<path fill="#5fe182" d="M468.0,41.0 467.0,47.0 466.0,48.0 466.0,51.0 465.0,52.0 465.0,54.0 463.0,58.0 463.0,61.0 462.0,62.0 462.0,64.0 460.0,68.0 459.0,78.0 458.0,79.0 458.0,83.0 457.0,84.0 456.0,96.0 455.0,97.0 455.0,117.0 456.0,118.0 456.0,123.0 457.0,124.0 458.0,135.0 462.0,143.0 464.0,145.0 465.0,148.0 471.0,154.0 472.0,154.0 480.0,160.0 483.0,160.0 484.0,161.0 487.0,161.0 488.0,162.0 492.0,162.0 493.0,163.0 497.0,163.0 498.0,164.0 501.0,164.0 502.0,163.0 509.0,163.0 510.0,162.0 514.0,162.0 515.0,161.0 519.0,161.0 520.0,160.0 524.0,160.0 525.0,159.0 538.0,159.0 539.0,158.0 584.0,158.0 585.0,157.0 589.0,157.0 589.0,40.0 469.0,40.0Z"/>
<path fill="#87e855" d="M471.0,41.0 470.0,45.0 469.0,46.0 468.0,53.0 467.0,54.0 467.0,56.0 465.0,60.0 465.0,63.0 464.0,64.0 464.0,66.0 462.0,70.0 461.0,80.0 460.0,81.0 460.0,86.0 459.0,87.0 459.0,91.0 458.0,92.0 458.0,104.0 457.0,105.0 457.0,114.0 458.0,115.0 458.0,121.0 459.0,122.0 460.0,132.0 466.0,145.0 470.0,150.0 477.0,154.0 480.0,157.0 486.0,158.0 487.0,159.0 490.0,159.0 491.0,160.0 495.0,160.0 496.0,161.0 505.0,161.0 506.0,160.0 510.0,160.0 511.0,159.0 515.0,159.0 516.0,158.0 521.0,158.0 522.0,157.0 527.0,157.0 528.0,156.0 561.0,156.0 562.0,155.0 589.0,155.0 589.0,40.0 472.0,40.0Z"/>
<path fill="#aff028" d="M475.0,41.0 472.0,47.0 472.0,50.0 470.0,54.0 470.0,57.0 469.0,58.0 469.0,60.0 467.0,64.0 467.0,67.0 465.0,71.0 465.0,74.0 464.0,75.0 463.0,86.0 462.0,87.0 462.0,91.0 461.0,92.0 461.0,104.0 460.0,105.0 460.0,114.0 461.0,115.0 461.0,121.0 462.0,122.0 463.0,132.0 468.0,142.0 474.0,149.0 475.0,149.0 477.0,151.0 484.0,155.0 492.0,156.0 493.0,157.0 497.0,157.0 498.0,158.0 501.0,158.0 502.0,157.0 509.0,157.0 510.0,156.0 514.0,156.0 515.0,155.0 519.0,155.0 520.0,154.0 524.0,154.0 525.0,153.0 538.0,153.0 539.0,152.0 584.0,152.0 585.0,151.0 589.0,151.0 589.0,40.0 476.0,40.0Z"/>
<path fill="#d5ec14" d="M476.0,44.0 475.0,48.0 474.0,49.0 473.0,56.0 472.0,57.0 472.0,59.0 470.0,63.0 470.0,66.0 469.0,67.0 469.0,69.0 467.0,73.0 466.0,83.0 465.0,84.0 465.0,88.0 464.0,89.0 464.0,96.0 463.0,97.0 463.0,117.0 464.0,118.0 465.0,130.0 471.0,142.0 476.0,147.0 477.0,147.0 484.0,152.0 487.0,152.0 488.0,153.0 491.0,153.0 492.0,154.0 496.0,154.0 497.0,155.0 504.0,155.0 505.0,154.0 510.0,154.0 511.0,153.0 515.0,153.0 516.0,152.0 520.0,152.0 521.0,151.0 527.0,151.0 528.0,150.0 550.0,150.0 551.0,149.0 589.0,149.0 589.0,40.0 484.0,40.0 483.0,41.0 479.0,41.0Z"/>
<path fill="#fae800" d="M478.0,46.0 477.0,50.0 476.0,51.0 475.0,58.0 473.0,62.0 473.0,65.0 472.0,66.0 472.0,68.0 470.0,72.0 470.0,75.0 469.0,76.0 468.0,86.0 467.0,87.0 467.0,91.0 466.0,92.0 466.0,104.0 465.0,105.0 465.0,114.0 466.0,115.0 466.0,121.0 467.0,122.0 467.0,127.0 468.0,128.0 468.0,131.0 475.0,143.0 476.0,143.0 484.0,149.0 490.0,150.0 491.0,151.0 494.0,151.0 495.0,152.0 506.0,152.0 507.0,151.0 511.0,151.0 512.0,150.0 516.0,150.0 517.0,149.0 521.0,149.0 522.0,148.0 528.0,148.0 529.0,147.0 562.0,147.0 563.0,146.0 589.0,146.0 589.0,40.0 516.0,40.0 515.0,41.0 507.0,41.0 506.0,42.0 493.0,42.0 492.0,43.0 483.0,43.0 482.0,44.0 480.0,44.0Z"/>
<path fill="#fabf00" d="M589.0,40.0 553.0,40.0 552.0,41.0 544.0,41.0 543.0,42.0 533.0,42.0 532.0,43.0 519.0,43.0 518.0,44.0 510.0,44.0 509.0,45.0 496.0,45.0 495.0,46.0 486.0,46.0 485.0,47.0 481.0,47.0 480.0,48.0 479.0,55.0 477.0,59.0 477.0,62.0 476.0,63.0 476.0,65.0 474.0,69.0 474.0,72.0 472.0,76.0 471.0,86.0 470.0,87.0 470.0,91.0 469.0,92.0 469.0,104.0 468.0,105.0 468.0,114.0 469.0,115.0 470.0,127.0 476.0,139.0 478.0,141.0 479.0,141.0 481.0,143.0 488.0,147.0 496.0,148.0 497.0,149.0 504.0,149.0 505.0,148.0 509.0,148.0 510.0,147.0 514.0,147.0 515.0,146.0 520.0,146.0 521.0,145.0 524.0,145.0 525.0,144.0 550.0,144.0 551.0,143.0 584.0,143.0 585.0,142.0 589.0,142.0Z"/>
<path fill="#fa9600" d="M589.0,44.0 577.0,44.0 576.0,45.0 554.0,46.0 553.0,47.0 542.0,47.0 541.0,48.0 535.0,48.0 534.0,47.0 533.0,48.0 532.0,47.0 507.0,47.0 506.0,48.0 493.0,48.0 492.0,49.0 484.0,49.0 482.0,50.0 481.0,57.0 480.0,58.0 479.0,64.0 478.0,65.0 478.0,67.0 476.0,71.0 476.0,74.0 474.0,78.0 474.0,83.0 473.0,84.0 473.0,89.0 472.0,90.0 472.0,96.0 471.0,97.0 471.0,117.0 472.0,118.0 472.0,124.0 473.0,125.0 473.0,128.0 478.0,138.0 481.0,139.0 488.0,144.0 491.0,144.0 492.0,145.0 495.0,145.0 496.0,146.0 505.0,146.0 506.0,145.0 515.0,144.0 516.0,143.0 519.0,143.0 522.0,141.0 530.0,140.0 531.0,139.0 536.0,139.0 537.0,138.0 550.0,138.0 551.0,137.0 589.0,137.0Z"/>
<path fill="#f98d05" d="M589.0,44.0 588.0,45.0 575.0,45.0 574.0,46.0 566.0,46.0 565.0,47.0 552.0,47.0 551.0,48.0 540.0,48.0 539.0,49.0 538.0,48.0 536.0,49.0 535.0,48.0 510.0,48.0 509.0,49.0 496.0,49.0 495.0,50.0 485.0,50.0 483.0,51.0 482.0,58.0 481.0,59.0 481.0,61.0 479.0,65.0 479.0,68.0 478.0,69.0 478.0,71.0 476.0,75.0 476.0,78.0 475.0,79.0 475.0,84.0 474.0,85.0 474.0,90.0 473.0,91.0 473.0,97.0 472.0,98.0 472.0,116.0 473.0,117.0 473.0,123.0 474.0,124.0 474.0,127.0 479.0,137.0 480.0,137.0 482.0,139.0 489.0,143.0 497.0,144.0 498.0,145.0 503.0,145.0 504.0,144.0 509.0,144.0 510.0,143.0 518.0,142.0 519.0,141.0 522.0,141.0 523.0,140.0 526.0,140.0 527.0,139.0 531.0,139.0 532.0,138.0 536.0,138.0 537.0,137.0 560.0,137.0 561.0,136.0 589.0,136.0Z"/>
<path fill="#f7840a" d="M589.0,45.0 588.0,46.0 575.0,46.0 574.0,47.0 565.0,47.0 564.0,48.0 552.0,48.0 551.0,49.0 508.0,49.0 507.0,50.0 494.0,50.0 493.0,51.0 485.0,51.0 483.0,54.0 483.0,57.0 482.0,58.0 482.0,60.0 481.0,61.0 481.0,63.0 479.0,67.0 479.0,70.0 477.0,74.0 476.0,82.0 475.0,83.0 475.0,88.0 474.0,89.0 474.0,94.0 473.0,95.0 473.0,110.0 472.0,111.0 473.0,112.0 473.0,118.0 474.0,119.0 474.0,124.0 475.0,125.0 475.0,128.0 477.0,130.0 479.0,135.0 485.0,140.0 489.0,142.0 492.0,142.0 493.0,143.0 496.0,143.0 497.0,144.0 504.0,144.0 505.0,143.0 509.0,143.0 510.0,142.0 519.0,141.0 523.0,139.0 531.0,138.0 532.0,137.0 536.0,137.0 537.0,136.0 560.0,136.0 561.0,135.0 589.0,135.0Z"/>
<path fill="#f67a0f" d="M589.0,46.0 587.0,47.0 574.0,47.0 573.0,48.0 564.0,48.0 563.0,49.0 551.0,49.0 550.0,50.0 506.0,50.0 505.0,51.0 493.0,51.0 492.0,52.0 485.0,52.0 484.0,53.0 484.0,56.0 483.0,57.0 483.0,59.0 481.0,63.0 481.0,66.0 480.0,67.0 480.0,69.0 478.0,73.0 478.0,76.0 477.0,77.0 477.0,80.0 476.0,81.0 476.0,86.0 475.0,87.0 475.0,92.0 474.0,93.0 474.0,105.0 473.0,106.0 473.0,113.0 474.0,114.0 475.0,126.0 480.0,135.0 488.0,141.0 491.0,141.0 492.0,142.0 495.0,142.0 496.0,143.0 504.0,143.0 505.0,142.0 510.0,142.0 511.0,141.0 519.0,140.0 523.0,138.0 531.0,137.0 532.0,136.0 536.0,136.0 537.0,135.0 561.0,135.0 562.0,134.0 589.0,134.0Z"/>
<path fill="#f57114" d="M532.0,51.0 524.0,51.0 523.0,50.0 517.0,50.0 516.0,51.0 505.0,51.0 504.0,52.0 491.0,52.0 490.0,53.0 485.0,53.0 485.0,55.0 484.0,56.0 484.0,58.0 483.0,59.0 483.0,61.0 481.0,65.0 481.0,68.0 480.0,69.0 480.0,71.0 478.0,75.0 478.0,78.0 477.0,79.0 477.0,84.0 476.0,85.0 476.0,90.0 475.0,91.0 475.0,101.0 474.0,102.0 474.0,115.0 475.0,116.0 475.0,122.0 476.0,123.0 476.0,126.0 480.0,134.0 488.0,140.0 490.0,140.0 491.0,141.0 495.0,141.0 496.0,142.0 506.0,142.0 507.0,141.0 516.0,140.0 517.0,139.0 519.0,139.0 523.0,137.0 526.0,137.0 527.0,136.0 531.0,136.0 533.0,135.0 533.0,53.0Z"/>
<path fill="#f36819" d="M526.0,51.0 502.0,52.0 501.0,53.0 488.0,53.0 485.0,55.0 485.0,57.0 484.0,58.0 484.0,60.0 483.0,61.0 483.0,63.0 482.0,64.0 482.0,66.0 480.0,70.0 480.0,73.0 479.0,74.0 479.0,77.0 478.0,78.0 478.0,82.0 477.0,83.0 476.0,94.0 475.0,95.0 475.0,117.0 476.0,118.0 476.0,124.0 477.0,125.0 477.0,127.0 480.0,131.0 481.0,134.0 490.0,140.0 494.0,140.0 495.0,141.0 507.0,141.0 508.0,140.0 517.0,139.0 518.0,138.0 520.0,138.0 521.0,137.0 523.0,137.0 527.0,135.0 527.0,127.0 528.0,126.0 528.0,66.0 527.0,65.0 527.0,57.0 526.0,56.0Z"/>
<path fill="#f25f1e" d="M519.0,52.0 487.0,54.0 485.0,57.0 485.0,59.0 484.0,60.0 484.0,62.0 483.0,63.0 483.0,65.0 481.0,69.0 481.0,72.0 479.0,76.0 479.0,79.0 478.0,80.0 478.0,86.0 477.0,87.0 477.0,92.0 476.0,93.0 476.0,106.0 475.0,107.0 475.0,113.0 476.0,114.0 476.0,120.0 477.0,121.0 477.0,125.0 481.0,133.0 483.0,135.0 486.0,136.0 490.0,139.0 498.0,140.0 499.0,141.0 501.0,141.0 502.0,140.0 508.0,140.0 509.0,139.0 512.0,139.0 513.0,138.0 517.0,138.0 518.0,137.0 520.0,137.0 522.0,134.0 523.0,126.0 524.0,125.0 524.0,67.0 523.0,66.0 522.0,58.0Z"/>
<path fill="#f4591b" d="M487.0,55.0 486.0,56.0 486.0,58.0 485.0,59.0 485.0,61.0 484.0,62.0 484.0,64.0 483.0,65.0 483.0,67.0 481.0,71.0 481.0,74.0 479.0,78.0 478.0,89.0 477.0,90.0 477.0,97.0 476.0,98.0 476.0,116.0 477.0,117.0 477.0,122.0 478.0,123.0 478.0,126.0 482.0,133.0 490.0,138.0 493.0,138.0 494.0,139.0 506.0,139.0 507.0,138.0 510.0,138.0 516.0,135.0 520.0,128.0 520.0,125.0 521.0,124.0 521.0,110.0 522.0,109.0 522.0,83.0 521.0,82.0 521.0,68.0 520.0,67.0 520.0,64.0 516.0,57.0 510.0,54.0 493.0,54.0 492.0,55.0Z"/>
<path fill="#f55218" d="M491.0,57.0 487.0,59.0 485.0,61.0 485.0,63.0 483.0,66.0 483.0,69.0 481.0,73.0 480.0,80.0 479.0,81.0 479.0,90.0 478.0,91.0 478.0,116.0 479.0,117.0 479.0,123.0 482.0,129.0 485.0,132.0 491.0,135.0 507.0,135.0 513.0,132.0 516.0,129.0 517.0,125.0 518.0,124.0 518.0,121.0 519.0,120.0 519.0,72.0 518.0,71.0 517.0,65.0 513.0,60.0 507.0,57.0Z"/>
<path fill="#f74c15" d="M498.0,59.0 497.0,60.0 492.0,60.0 486.0,63.0 484.0,66.0 484.0,68.0 482.0,72.0 482.0,76.0 481.0,77.0 481.0,118.0 482.0,119.0 483.0,125.0 486.0,129.0 492.0,132.0 497.0,132.0 498.0,133.0 500.0,133.0 501.0,132.0 506.0,132.0 512.0,129.0 515.0,125.0 515.0,123.0 516.0,122.0 516.0,117.0 517.0,116.0 517.0,76.0 516.0,75.0 516.0,70.0 515.0,69.0 515.0,67.0 512.0,63.0 506.0,60.0 501.0,60.0 500.0,59.0Z"/>
<path fill="#f84611" d="M495.0,62.0 494.0,63.0 491.0,63.0 489.0,65.0 488.0,65.0 485.0,69.0 485.0,71.0 484.0,72.0 484.0,82.0 483.0,83.0 483.0,109.0 484.0,110.0 484.0,120.0 487.0,126.0 491.0,129.0 494.0,129.0 495.0,130.0 503.0,130.0 504.0,129.0 507.0,129.0 509.0,127.0 510.0,127.0 513.0,123.0 513.0,121.0 514.0,120.0 514.0,109.0 515.0,108.0 515.0,84.0 514.0,83.0 514.0,72.0 511.0,66.0 507.0,63.0 504.0,63.0 503.0,62.0Z"/>
<path fill="#fa400e" d="M494.0,65.0 489.0,68.0 487.0,72.0 487.0,74.0 486.0,75.0 486.0,117.0 490.0,125.0 494.0,127.0 504.0,127.0 509.0,124.0 511.0,120.0 511.0,118.0 512.0,117.0 512.0,75.0 508.0,67.0 504.0,65.0Z"/>
<path fill="#fc3a0b" d="M498.0,67.0 497.0,68.0 494.0,68.0 490.0,72.0 490.0,74.0 489.0,75.0 489.0,82.0 488.0,83.0 488.0,109.0 489.0,110.0 489.0,117.0 490.0,118.0 490.0,120.0 494.0,124.0 500.0,125.0 501.0,124.0 504.0,124.0 508.0,120.0 508.0,118.0 509.0,117.0 509.0,110.0 510.0,109.0 510.0,83.0 509.0,82.0 509.0,75.0 508.0,74.0 508.0,72.0 504.0,68.0Z"/>
<path fill="#fd3308" d="M497.0,71.0 494.0,73.0 492.0,77.0 492.0,115.0 495.0,120.0 497.0,121.0 501.0,121.0 504.0,119.0 506.0,115.0 506.0,77.0 503.0,72.0 501.0,71.0Z"/>
</g></g>
<ellipse cx="430.5" cy="168.5" rx="1.5" ry="8" fill="#8a1a70" fill-opacity="0.7" filter="url(#b1)"/>
<!-- left 3d icons -->
<circle cx="352" cy="130" r="32" fill="url(#glow)"/>
<path d="M336,99 C340,90.5 354,90.5 358,99 C354,107.5 340,107.5 336,99 Z" fill="none" stroke="#e8e8e8" stroke-width="2"/>
<circle cx="347" cy="99" r="3.8" fill="#9a9a9a" stroke="#d0d0d0" stroke-width="1.2"/>
<circle cx="352" cy="104" r="1.3" fill="#e0e0e0"/>
<g transform="rotate(-48 346.5 129)">
 <path d="M357,127.5 A11,5.8 0 1 1 350,124" fill="none" stroke="#f4f4f4" stroke-width="2.6" stroke-linecap="round"/>
 <path d="M348,121 L353,124.2 L348.5,127.5 Z" fill="#f4f4f4"/>
</g>

<!-- right toolbar -->
<defs><linearGradient id="cbar" x1="0" y1="0" x2="0" y2="1">
 <stop offset="0" stop-color="#f0d0c8"/><stop offset="0.07" stop-color="#f07040"/><stop offset="0.2" stop-color="#f08c20"/><stop offset="0.3" stop-color="#f8b000"/><stop offset="0.4" stop-color="#f0e800"/><stop offset="0.55" stop-color="#80e060"/><stop offset="0.7" stop-color="#20c0e0"/><stop offset="0.85" stop-color="#1070f0"/><stop offset="1" stop-color="#1040e0"/>
</linearGradient></defs>
<rect x="620.8" y="9.4" width="9.2" height="47.8" fill="url(#cbar)"/>
<g fill="#d0d0d0">
 <rect x="604.8" y="18.8" width="6.3" height="2.8" rx="0.8"/><rect x="604.8" y="27" width="6.3" height="2.8" rx="0.8"/><rect x="604.8" y="36.3" width="6.3" height="2.8" rx="0.8"/><rect x="604.8" y="45.6" width="6.3" height="2.8" rx="0.8"/>
</g>
<g stroke="#606060" stroke-width="0.6" stroke-dasharray="1 1"><path d="M612,20.2 H620 M612,28.4 H620 M612,37.7 H620 M612,47 H620"/></g>
<rect x="599.5" y="63.7" width="31.3" height="10.3" fill="#ececec"/>
<text x="601.5" y="71.2" font-size="6.2" font-family="Liberation Sans" fill="#505050" textLength="24" lengthAdjust="spacingAndGlyphs">AutoNormal</text>
<rect x="627.5" y="66" width="1" height="6" fill="#707070"/>
<text x="608" y="84.3" font-size="6.3" font-family="Liberation Sans" fill="#c8c8c8" textLength="22.5" lengthAdjust="spacingAndGlyphs">Coloring</text>
<rect x="618.7" y="97" width="2.4" height="56" fill="#a8a8a8"/>
<circle cx="619.7" cy="92.3" r="6.3" fill="#d0d0d0"/>
<circle cx="619.7" cy="92.3" r="4.2" fill="#c4c4c4" stroke="#a0a0a0" stroke-width="1"/>
<text x="610.7" y="159" font-size="5.8" font-family="Liberation Sans" font-weight="bold" fill="#e8e8e8" textLength="19.3" lengthAdjust="spacingAndGlyphs">Texture</text>
<!-- texture icon -->
<g transform="translate(618.5 175.5) rotate(-38) skewX(12)">
 <rect x="-6" y="-9" width="12" height="18" fill="#303030" stroke="#7a7a7a" stroke-width="0.8"/>
 <path d="M-6,-5.4 H6 M-6,-1.8 H6 M-6,1.8 H6 M-6,5.4 H6 M-2,-9 V9 M2,-9 V9" stroke="#8a8a8a" stroke-width="0.8"/>
</g>
<rect x="608.5" y="197.5" width="20.5" height="18" fill="none" stroke="#484848" stroke-width="1.2"/>
<path d="M611.6,211 L616.2,204.6 L620,209.2 L624.5,203.7" stroke="#e8e8e8" stroke-width="1.3" fill="none"/>
<g fill="#f0f0f0"><circle cx="611.6" cy="211" r="1.7"/><circle cx="616.2" cy="204.6" r="1.7"/><circle cx="620" cy="209.2" r="1.7"/><circle cx="624.5" cy="203.7" r="1.7"/></g>

<!-- blue triangles right -->
<g fill="#1c1cb8">
 <path d="M639,171 L652,186 L639,201 Z"/>
 <path d="M639,212 L652,226 L639,240 Z"/>
 <path d="M639,251 L652,265 L639,279 Z"/>
 <path d="M639,291 L652,304 L639,317 Z"/>
 <path d="M639,330 L652,343 L639,356 Z"/>
</g>
<!-- red left triangle -->
<path d="M-2,257 L7,265 L-2,273 Z" fill="#d01020"/>

<!-- ===== graph ===== -->
<g>
 <rect x="41" y="257" width="271" height="184" fill="#101212"/>
 <g stroke="#a4a4a4" stroke-width="1.5" fill="none">
  <path d="M41,280 H312 M41,306 H312 M41,332 H312 M41,357 H312 M41,382 H312 M41,408 H312"/>
  <path d="M51,257 V448 M114.5,257 V448 M177,257 V448 M239.5,257 V448 M302,257 V448"/>
 </g>
 <rect x="41" y="256.5" width="271" height="184.5" fill="none" stroke="#a8a8a8" stroke-width="1.5"/>
 <!-- blue bars -->
 <rect x="54" y="257" width="4" height="186" fill="#2a70d0"/>
 <rect x="173.5" y="257" width="4" height="17" fill="#2a70d0"/>
 <!-- red curve -->
 <path d="M177,274 C180,266 186,264.5 200,264 L240,264 C250,265 258,273 268,274.5 L301,275.5" stroke="#a82838" stroke-width="2.8" fill="none"/>
 <rect x="300.8" y="275" width="2.2" height="159" fill="#c85068"/>
 <!-- white lines -->
 <rect x="41" y="272.5" width="271" height="2.8" fill="#e8e0e8"/>
 <rect x="41" y="432.8" width="271" height="3" fill="#e8e6ea"/>
 <!-- green -->
 <rect x="58" y="429.5" width="116" height="3" fill="#40c040"/>
 <path d="M58.0,431.0 C61.6,429.0 72.8,422.8 79.5,419.0 C86.2,415.2 91.8,412.0 97.9,408.0 C104.0,404.0 110.5,400.8 116.3,395.0 C122.1,389.2 128.0,380.3 132.9,373.0 C137.8,365.7 141.8,359.0 145.8,351.0 C149.8,343.0 153.5,333.6 156.9,325.0 C160.3,316.4 163.2,307.7 166.0,299.5 C168.8,291.3 172.7,279.9 174.0,276.0" stroke="#50d050" stroke-width="2" fill="none"/>
 <path d="M133,370 L172,429" stroke="#5a38c0" stroke-width="2" fill="none"/>
 <rect x="173" y="274" width="2.8" height="160" fill="#6cdc94"/>
 <!-- ticks -->
 <g stroke="#909090" stroke-width="1">
  <path d="M37,267 H41 M37,293 H41 M37,319 H41 M37,344 H41 M37,370 H41 M37,395 H41 M37,421 H41"/>
  <path d="M35,280 H41 M35,306 H41 M35,332 H41 M35,357 H41 M35,382 H41 M35,408 H41 M35,434 H41"/>
 </g>
 <g stroke="#909090" stroke-width="1">
  <path d="M63.5,441 V445 M76,441 V445 M89,441 V445 M101.5,441 V445 M127,441 V445 M139.5,441 V445 M152,441 V445 M164.5,441 V445 M189.5,441 V445 M202,441 V445 M214.5,441 V445 M227,441 V445 M252,441 V445 M264.5,441 V445 M277,441 V445 M289.5,441 V445"/>
 </g>
 <g fill="#e4e4e4" font-size="5.8" font-weight="bold" font-family="Liberation Sans" text-anchor="end">
  <text x="33" y="281">60K</text><text x="33" y="307">50K</text><text x="33" y="333">40K</text><text x="33" y="358">30K</text><text x="33" y="383">20K</text><text x="33" y="409">10K</text><text x="33" y="436">0</text>
 </g>
 <g fill="#e0e0e0" font-size="6.2" font-weight="bold" font-family="Liberation Sans" text-anchor="middle">
  <text x="50" y="457">-800</text><text x="113" y="457">-400</text><text x="177" y="457">0</text><text x="239" y="457">400</text><text x="301" y="457">800</text>
 </g>
 <!-- magnifier -->
 <circle cx="24" cy="453" r="3" fill="none" stroke="#e0e0e0" stroke-width="1.5"/>
 <path d="M26,455 L30,459" stroke="#e0e0e0" stroke-width="2"/>
</g>
</svg>

<div class="lbl" style="left:333px;top:242px;">Volume [nl]</div>
<div class="val" style="left:341px;top:276px;">211.895</div>
<div class="lbl" style="left:488px;top:242px;">Volume [%]</div>
<div class="val" style="left:496px;top:276px;">92.7186</div>
<div class="lbl" style="left:333px;top:313px;">MCS [µm]</div>
<div class="val" style="left:341px;top:347px;">355.016</div>
<div class="lbl" style="left:488px;top:313px;">MCS[%]</div>
<div class="val" style="left:496px;top:347px;">100.343</div>
<div class="lbl" style="left:333px;top:383px;">CrossShift [µm]</div>
<div class="val" style="left:341px;top:417px;">7.2521</div>
</div></body></html>
